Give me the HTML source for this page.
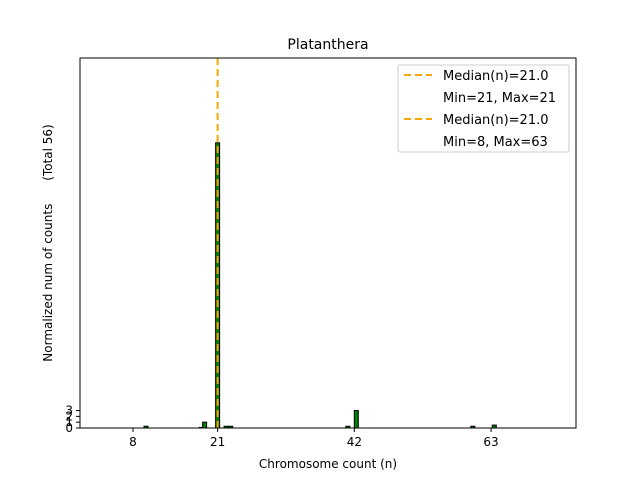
<!DOCTYPE html>
<html><head><meta charset="utf-8"><style>
body{margin:0;background:#fff}
svg text{font-family:"DejaVu Sans","Liberation Sans",sans-serif;fill:#000}
</style></head><body>
<svg id="chart" width="640" height="480" viewBox="0 0 640 480" xmlns="http://www.w3.org/2000/svg">
<rect width="640" height="480" fill="#fff"/>
<text x="328" y="49" font-size="14" text-anchor="middle">Platanthera</text>
<g id="bars"></g>
<g id="axes"></g>
<text x="328" y="468" font-size="12" text-anchor="middle">Chromosome count (n)</text>
<text transform="translate(52,243) rotate(-90)" font-size="12" text-anchor="middle" style="white-space:pre" xml:space="preserve">Normalized num of counts      (Total 56)</text>
<g>
<rect x="398" y="65" width="171" height="87" rx="2" fill="#fff" stroke="#ccc"/>
<line x1="404" y1="75" x2="432" y2="75" stroke="#f5a800" stroke-width="2" stroke-dasharray="7,4"/>
<text x="443" y="80" font-size="13">Median(n)=21.0</text>
<text x="443" y="102" font-size="13">Min=21, Max=21</text>
<line x1="404" y1="119" x2="432" y2="119" stroke="#f5a800" stroke-width="2" stroke-dasharray="7,4"/>
<text x="443" y="124" font-size="13">Median(n)=21.0</text>
<text x="443" y="146" font-size="13">Min=8, Max=63</text>
</g>
</svg>
<script>
const categories=[10,18.5,19,21,22.3,23,41,42.3,60.2,63.5];
const counts=[0.3,0.1,1,49,0.3,0.3,0.3,3,0.3,0.5];
const xTicks=[8,21,42,63];
const yTicks=[0,1,2,3];
const median=21;
const NS="http://www.w3.org/2000/svg";
const X0=80,X1=576,Y0=428,Y1=58;
function xs(v){return 133+(v-8)*6.51;}
function ys(v){return Y0-v*5.82;}
const bars=document.getElementById('bars');
categories.forEach((c,i)=>{
 const r=document.createElementNS(NS,'rect');
 
 
 const w=4;
 r.setAttribute('x',xs(c)-w/2);r.setAttribute('width',w);
 r.setAttribute('y',ys(counts[i]));r.setAttribute('height',Y0-ys(counts[i]));
 r.setAttribute('fill','#007f00');r.setAttribute('stroke','#000');r.setAttribute('stroke-width','1');
 bars.appendChild(r);
});
const ml=document.createElementNS(NS,'line');


ml.setAttribute('x1',xs(median));ml.setAttribute('x2',xs(median));ml.setAttribute('y1',Y1);ml.setAttribute('y2',Y0);
ml.setAttribute('stroke','#f5a800');ml.setAttribute('stroke-width','2');ml.setAttribute('stroke-dasharray','7,4');
bars.appendChild(ml);
const ax=document.getElementById('axes');
const fr=document.createElementNS(NS,'rect');


fr.setAttribute('x',X0);fr.setAttribute('y',Y1);fr.setAttribute('width',X1-X0);fr.setAttribute('height',Y0-Y1);
fr.setAttribute('fill','none');fr.setAttribute('stroke','#000');
ax.appendChild(fr);
xTicks.forEach(t=>{
 const l=document.createElementNS(NS,'line');
 
 
 l.setAttribute('x1',xs(t));l.setAttribute('x2',xs(t));l.setAttribute('y1',Y0);l.setAttribute('y2',Y0+4);l.setAttribute('stroke','#000');
 ax.appendChild(l);
 const tx=document.createElementNS(NS,'text');
 
 
 tx.setAttribute('x',xs(t));tx.setAttribute('y',Y0+18);tx.setAttribute('font-size','12');tx.setAttribute('text-anchor','middle');
 tx.textContent=t;ax.appendChild(tx);
});
yTicks.forEach(t=>{
 const l=document.createElementNS(NS,'line');
 
 
 l.setAttribute('x1',X0-4);l.setAttribute('x2',X0);l.setAttribute('y1',ys(t));l.setAttribute('y2',ys(t));l.setAttribute('stroke','#000');
 ax.appendChild(l);
 const tx=document.createElementNS(NS,'text');
 
 
 tx.setAttribute('x',X0-7);tx.setAttribute('y',ys(t)+4);tx.setAttribute('font-size','12');tx.setAttribute('text-anchor','end');
 tx.textContent=t;ax.appendChild(tx);
});
</script>
</body></html>
